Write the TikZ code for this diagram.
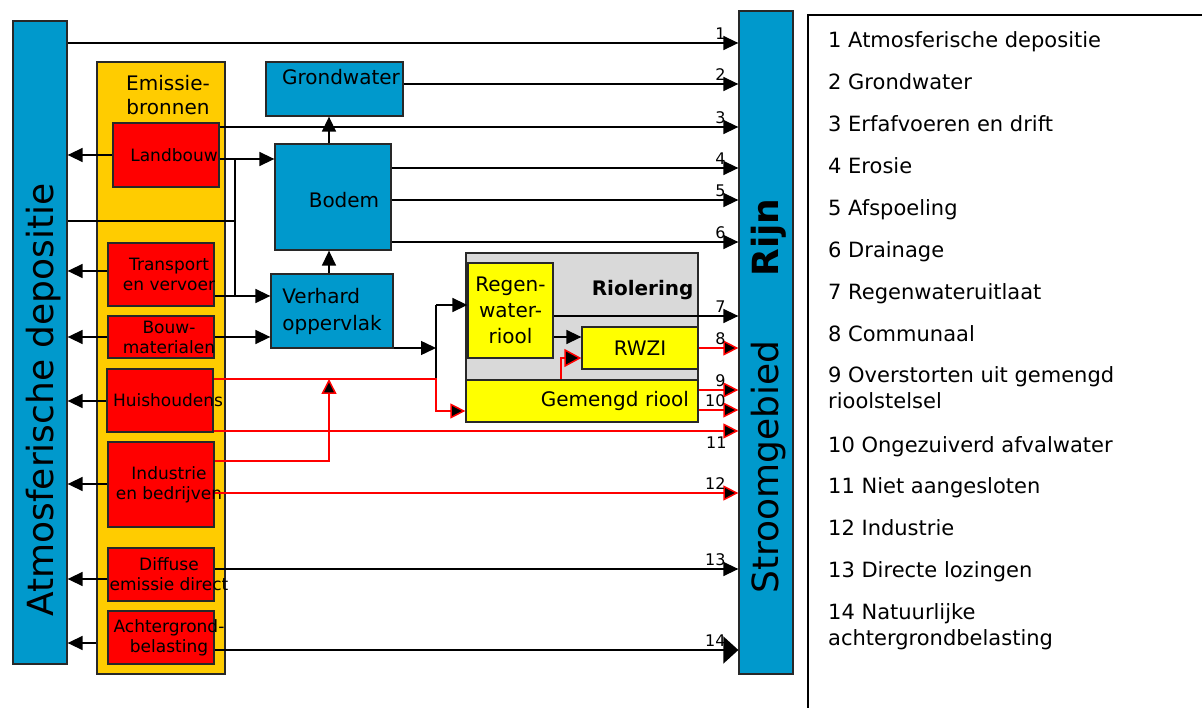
\documentclass[tikz,border=0pt]{standalone}
\usepackage{fontspec}
\setmainfont{DejaVu Sans}
\usetikzlibrary{arrows.meta, calc}
\definecolor{basin}{RGB}{0,153,204}
\definecolor{source}{RGB}{255,204,0}
\definecolor{emit}{RGB}{255,0,0}
\definecolor{sewer}{RGB}{255,255,0}
\definecolor{sewgrey}{RGB}{217,217,217}
\definecolor{edge}{RGB}{40,40,40}
\tikzset{
  panel/.style={draw=edge, line width=1.3pt, inner sep=0pt, align=center},
  bluebox/.style={panel, fill=basin, font=\fontsize{20}{27}\selectfont},
  yelbox/.style={panel, fill=sewer, font=\fontsize{20}{26}\selectfont},
  redbox/.style={panel, fill=emit, minimum width=106pt, label={[redtxt]center:#1}},
  redtxt/.style={align=center, inner sep=0pt, xshift=8pt, font=\fontsize{17}{20}\selectfont},
  boxtxt/.style={inner sep=0pt, font=\fontsize{20}{24}\selectfont},
  bartxt/.style={inner sep=0pt, font=\fontsize{36}{36}\selectfont},
  flow/.style={line width=1.5pt, -{Triangle[length=15pt,width=14pt]}},
  wflow/.style={red, line width=1.5pt, -{Triangle[length=15pt,width=15pt,fill=black]}},
  pipe/.style={line width=1.5pt},
  num/.style={pos=1, anchor=south east, inner sep=0pt, xshift=-12pt, yshift=3pt, text=black, font=\fontsize{16}{16}\selectfont},
  numb/.style={pos=1, anchor=north east, inner sep=0pt, xshift=-11pt, yshift=-5pt, text=black, font=\fontsize{16}{16}\selectfont},
  legtxt/.style={anchor=base west, inner sep=0pt, align=left, font=\fontsize{21}{26}\selectfont},
}
\begin{document}
\begin{tikzpicture}[x=1pt, y=-1pt]
  \useasboundingbox (0,0) rectangle (1202,708);

  % side bars
  \node[panel, fill=basin, minimum width=54pt, minimum height=643pt,
    label={[bartxt, xshift=4pt, yshift=-57.5pt, rotate=90]center:Atmosferische depositie}] (atm) at (40,342.5) {};
  \node[panel, fill=basin, minimum width=54pt, minimum height=663pt,
    label={[bartxt, xshift=2.6pt, yshift=-124.5pt, rotate=90]center:Stroomgebied},
    label={[bartxt, xshift=2.6pt, yshift=105pt, rotate=90]center:\textbf{Rijn}}] (rijn) at (766,342.5) {};

  % sources
  \node[panel, fill=source, minimum width=128pt, minimum height=612pt,
    label={[boxtxt, anchor=north, align=center, xshift=7pt, yshift=-14pt]north:Emissie-\\bronnen}] (emis) at (161,368) {};
  \node[redbox=Landbouw, minimum height=64pt] (landbouw) at (166,155) {};
  \node[redbox={Transport\\en vervoer}, minimum height=63pt] (transport) at (161,274.5) {};
  \node[redbox={Bouw-\\materialen}, minimum height=42pt] (bouw) at (161,337) {};
  \node[redbox=Huishoudens, minimum height=63pt] (huis) at (160,400.5) {};
  \node[redbox={Industrie\\en bedrijven}, minimum height=85pt] (industrie) at (161,484.5) {};
  \node[redbox={Diffuse\\emissie direct}, minimum height=53pt] (diffuse) at (161,574.5) {};
  \node[redbox={Achtergrond-\\belasting}, minimum height=53pt] (achter) at (161,637.5) {};

  % soil and water
  \node[bluebox, minimum width=137pt, minimum height=54pt,
    label={[boxtxt, anchor=north, xshift=6.5pt, yshift=-7.8pt]north:Grondwater}] (grondwater) at (334.5,89) {};
  \node[bluebox, minimum width=116pt, minimum height=106pt,
    label={[boxtxt, xshift=11pt, yshift=-3.4pt]center:Bodem}] (bodem) at (333,197) {};
  \node[bluebox, align=left, minimum width=122pt, minimum height=74pt] (verhard) at (332,311) {Verhard\\oppervlak};

  % sewer system
  \node[panel, fill=sewgrey, minimum width=232pt, minimum height=169pt,
    label={[boxtxt, anchor=north east, xshift=-5pt, yshift=-27.8pt]north east:\textbf{Riolering}}] (riolering) at (582,337.5) {};
  \node[yelbox, minimum width=85pt, minimum height=95pt] (regen) at (510.5,310.5) {Regen-\\water-\\riool};
  \node[yelbox, minimum width=116pt, minimum height=42pt] (rwzi) at (640,348) {RWZI};
  \node[yelbox, minimum width=232pt, minimum height=42pt, text width=214pt, align=right] (gemengd) at (582,401) {Gemengd riool};

  % flows into the river
  \draw[flow] (atm.east |- 0,43) -- node[num]{1} (rijn.west |- 0,43);
  \draw[flow] (grondwater.east |- 0,84) -- node[num]{2} (rijn.west |- 0,84);
  \draw[flow] (landbouw.east |- 0,127) -- node[num]{3} (rijn.west |- 0,127);
  \foreach \n/\y in {4/168, 5/200, 6/242}
    \draw[flow] (bodem.east |- 0,\y) -- node[num]{\n} (rijn.west |- 0,\y);
  \draw[flow] (regen.east |- 0,316) -- node[num]{7} (rijn.west |- 0,316);
  \draw[wflow] (rwzi.east) -- node[num]{8} (rijn.west |- rwzi.east);
  \draw[wflow] (gemengd.east |- 0,390) -- node[num]{9} (rijn.west |- 0,390);
  \draw[wflow] (gemengd.east |- 0,410) -- node[num]{10} (rijn.west |- 0,410);
  \draw[wflow] (huis.east |- 0,431) -- node[numb]{11} (rijn.west |- 0,431);
  \draw[wflow] (industrie.east |- 0,493) -- node[num]{12} (rijn.west |- 0,493);
  \draw[flow] (diffuse.east |- 0,569) -- node[num]{13} (rijn.west |- 0,569);
  \draw[flow, -{Triangle[length=15pt,width=27pt]}] (achter.east |- 0,650) -- node[num]{14} (rijn.west |- 0,650);

  % emissions to the air
  \foreach \src/\y in {landbouw/155, transport/271, bouw/337, huis/401, industrie/484, diffuse/579}
    \draw[flow] (\src.west |- 0,\y) -- (atm.east |- 0,\y);
  \draw[flow] (emis.west |- 0,643) -- (atm.east |- 0,643);

  % inner routes
  \coordinate (split) at (235,159);
  \draw[pipe] (atm.east |- 0,221) -- (split |- 0,221);
  \draw[pipe] (split) -- (split |- 0,296);
  \draw[flow] (landbouw.east |- split) -- (bodem.west |- split);
  \draw[flow] (transport.east |- 0,296) -- (verhard.west |- 0,296);
  \draw[flow] (bouw.east) -- (verhard.west |- bouw.east);
  \coordinate (up) at ([xshift=-4pt]bodem.north);
  \draw[flow] (up) -- (up |- grondwater.south);
  \draw[flow] (up |- verhard.north) -- (up |- bodem.south);
  \coordinate (fork) at (436,348);
  \draw[flow] (verhard.east |- fork) -- (fork);
  \draw[pipe] (fork |- 0,305) -- (fork |- 0,379);
  \draw[flow] (fork |- 0,305) -- (regen.west |- 0,305);
  \draw[wflow] (huis.east |- 0,379) -- (fork |- 0,379) -- (fork |- 0,411) -- (gemengd.west |- 0,411);
  \draw[wflow] (industrie.east |- 0,461) -- (up |- 0,461) -- (up |- 0,379);
  \draw[flow] (regen.east |- 0,337) -- (rwzi.west |- 0,337);
  \draw[wflow, -{Triangle[length=17pt,width=18pt,fill=black]}] (gemengd.north -| 561,0) -- (561,358) -- (rwzi.west |- 0,358);

  % legend
  \draw[line width=1.3pt] (808,712) -- (808,15) -- (1206,15);
  \foreach \n/\y/\t in {1/48/Atmosferische depositie, 2/90/Grondwater, 3/132/Erfafvoeren en drift,
      4/174/Erosie, 5/216/Afspoeling, 6/258/Drainage, 7/300/Regenwateruitlaat, 8/342/Communaal,
      9/409/{Overstorten uit gemengd\\rioolstelsel}, 10/452/Ongezuiverd afvalwater,
      11/493/Niet aangesloten, 12/535/Industrie, 13/577/Directe lozingen,
      14/645/{Natuurlijke\\achtergrondbelasting}}
    \node[legtxt] (leg\n) at (828,\y) {\n\ \t};
\end{tikzpicture}
\end{document}
